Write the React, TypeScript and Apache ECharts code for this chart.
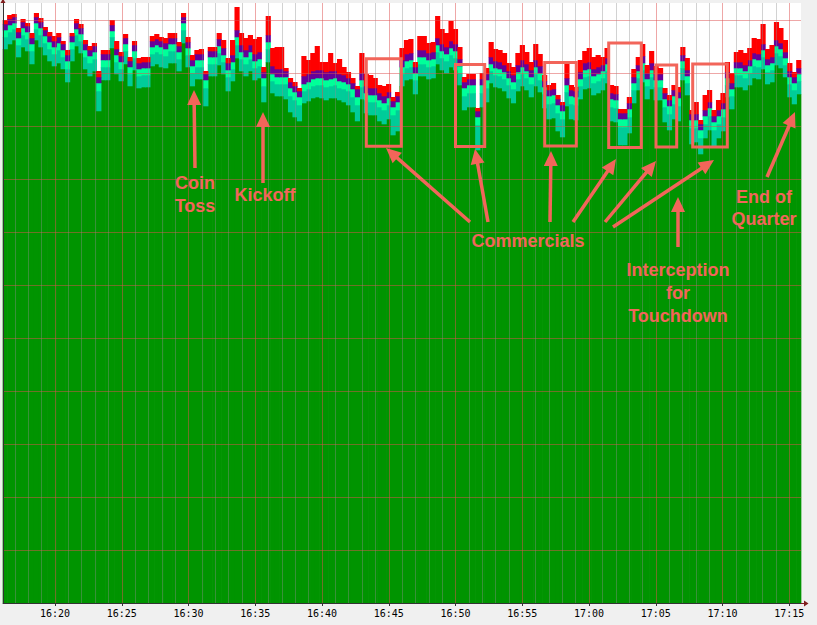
import React, { useEffect, useRef } from "react";
import * as echarts from "echarts";

// Time span of the plot, in minutes after 16:00 (16:16:06 .. 17:15:52)
const START_MIN = 16.105;
const END_MIN = 75.875;

// Major tick positions (minutes after 16:00) and their labels
const xTickMinutes = [20, 25, 30, 35, 40, 45, 50, 55, 60, 65, 70, 75];
const xTickLabels = ["16:20", "16:25", "16:30", "16:35", "16:40", "16:45", "16:50", "16:55", "17:00", "17:05", "17:10", "17:15"];

// One bar every 20 s. Total stacked height of each bar.
const totals = [
  583, 588, 589, 575, 584, 580, 570, 590, 585, 576,
  571, 567, 570, 562, 553, 570, 584, 579, 563, 557,
  560, 532, 553, 553, 583, 562, 551, 569, 546, 562,
  545, 546, 546, 567, 569, 566, 565, 570, 570, 561,
  590, 566, 548, 553, 554, 532, 556, 556, 570, 563,
  545, 563, 596, 570, 565, 568, 564, 566, 536, 587,
  555, 556, 556, 535, 525, 521, 515, 547, 543, 550,
  557, 541, 541, 550, 540, 544, 536, 531, 525, 517,
  550, 529, 528, 525, 518, 517, 519, 506, 511, 555,
  563, 564, 541, 567, 567, 560, 561, 587, 574, 570,
  582, 574, 556, 526, 529, 529, 495, 530, 535, 561,
  554, 553, 550, 540, 536, 550, 558, 551, 541, 559,
  549, 528, 518, 520, 508, 501, 540, 518, 516, 543,
  552, 555, 546, 548, 546, 555, 518, 517, 494, 494,
  506, 534, 546, 559, 538, 552, 537, 535, 515, 508,
  518, 516, 556, 545, 493, 501, 483, 508, 513, 493,
  503, 510, 541, 530, 551, 553, 550, 555, 565, 564,
  579, 554, 558, 581, 575, 563, 540, 531, 543,
];

// Top layer (red)
const redLayer = [
  4, 4, 3, 4, 3, 3, 5, 4, 4, 3,
  4, 5, 4, 3, 5, 3, 4, 4, 4, 4,
  3, 6, 4, 4, 5, 8, 4, 4, 4, 4,
  5, 5, 5, 5, 5, 4, 5, 5, 5, 4,
  4, 5, 5, 4, 5, 3, 4, 4, 6, 8,
  5, 15, 23, 12, 12, 10, 15, 15, 5, 19,
  18, 22, 22, 3, 4, 4, 3, 20, 14, 18,
  24, 8, 10, 18, 8, 15, 8, 6, 5, 3,
  20, 12, 13, 10, 8, 10, 8, 4, 4, 12,
  14, 14, 5, 14, 14, 10, 10, 22, 15, 14,
  20, 15, 12, 5, 5, 5, 3, 6, 6, 15,
  12, 12, 12, 8, 8, 12, 15, 12, 8, 16,
  12, 6, 5, 6, 4, 3, 15, 5, 4, 12,
  12, 14, 12, 12, 8, 10, 8, 8, 4, 4,
  6, 8, 8, 12, 8, 12, 8, 6, 5, 5,
  5, 5, 8, 12, 4, 12, 4, 15, 12, 6,
  10, 10, 10, 10, 10, 12, 12, 12, 15, 15,
  20, 10, 12, 18, 15, 12, 8, 5, 8,
];

// Purple layer
const purpleLayer = [
  6, 6, 6, 6, 6, 6, 6, 6, 6, 6,
  6, 6, 6, 6, 6, 6, 6, 6, 6, 6,
  6, 6, 6, 6, 6, 6, 6, 6, 6, 6,
  6, 6, 6, 6, 6, 6, 6, 6, 6, 6,
  6, 6, 6, 6, 6, 6, 6, 6, 7, 7,
  7, 7, 7, 7, 7, 7, 7, 7, 6, 7,
  8, 8, 8, 6, 6, 6, 6, 8, 8, 8,
  8, 8, 8, 8, 7, 7, 7, 6, 6, 8,
  7, 7, 7, 7, 7, 7, 6, 6, 6, 7,
  7, 7, 6, 7, 7, 7, 7, 7, 7, 7,
  7, 7, 7, 6, 6, 6, 6, 6, 6, 7,
  7, 7, 7, 7, 7, 7, 7, 7, 7, 7,
  7, 6, 6, 6, 6, 6, 7, 6, 6, 7,
  7, 7, 7, 7, 6, 6, 6, 6, 6, 6,
  6, 6, 6, 7, 6, 7, 6, 6, 6, 6,
  6, 6, 6, 6, 6, 6, 6, 6, 6, 6,
  6, 6, 6, 6, 6, 6, 6, 6, 6, 6,
  6, 6, 6, 6, 6, 6, 6, 6, 6,
];

// Bright mint layer
const mintLayer = [
  7, 7, 6, 7, 7, 7, 7, 6, 7, 7,
  7, 7, 7, 7, 8, 7, 6, 7, 7, 7,
  7, 8, 7, 7, 6, 7, 7, 7, 7, 7,
  7, 7, 7, 7, 7, 7, 7, 7, 7, 7,
  7, 7, 7, 7, 7, 8, 7, 7, 7, 7,
  7, 7, 8, 7, 7, 7, 7, 7, 8, 7,
  7, 7, 7, 7, 8, 8, 8, 7, 7, 7,
  7, 7, 7, 7, 7, 7, 7, 7, 8, 8,
  7, 7, 7, 7, 7, 7, 7, 8, 8, 7,
  7, 7, 7, 7, 7, 7, 7, 7, 7, 7,
  7, 7, 7, 8, 8, 8, 8, 8, 8, 7,
  7, 7, 7, 7, 7, 7, 7, 7, 7, 7,
  7, 7, 8, 8, 8, 8, 7, 8, 8, 7,
  7, 7, 7, 7, 7, 7, 8, 8, 8, 8,
  8, 7, 7, 7, 7, 7, 7, 7, 8, 8,
  8, 8, 7, 7, 8, 8, 8, 8, 8, 8,
  8, 8, 7, 7, 7, 7, 7, 7, 7, 7,
  7, 7, 7, 7, 7, 7, 7, 7, 7,
];

// Teal layer
const tealLayer = [
  12, 12, 11, 12, 12, 12, 13, 11, 12, 12,
  12, 12, 13, 12, 13, 12, 11, 12, 12, 13,
  12, 20, 13, 13, 11, 12, 12, 13, 12, 12,
  12, 12, 12, 12, 12, 13, 12, 12, 12, 12,
  13, 12, 13, 12, 12, 18, 12, 12, 12, 12,
  14, 12, 13, 12, 12, 12, 12, 12, 16, 13,
  12, 12, 12, 15, 16, 17, 16, 12, 12, 12,
  12, 13, 13, 12, 13, 12, 13, 14, 15, 16,
  12, 13, 13, 13, 14, 14, 14, 20, 21, 12,
  12, 12, 14, 12, 12, 12, 12, 12, 12, 12,
  12, 12, 12, 14, 14, 14, 25, 14, 14, 12,
  12, 12, 12, 13, 14, 12, 12, 12, 13, 12,
  12, 14, 15, 15, 18, 18, 14, 15, 15, 13,
  12, 12, 12, 12, 12, 12, 14, 14, 18, 18,
  16, 13, 12, 12, 13, 12, 13, 13, 15, 16,
  15, 15, 12, 12, 16, 14, 16, 14, 14, 16,
  14, 14, 12, 13, 12, 12, 12, 12, 12, 12,
  12, 12, 12, 12, 12, 12, 13, 14, 13,
];

// Base layer (green) = total minus the layers above it
const greenLayer = totals.map(
  (t, i) => t - redLayer[i] - purpleLayer[i] - mintLayer[i] - tealLayer[i]
);

const layerColors = ["#009400", "#00cc99", "#00ff99", "#660099", "#ff0000"];
const layerNames = ["Base", "Teal", "Mint", "Purple", "Red"];

const pad = (n: number) => (n < 10 ? "0" + n : "" + n);
const barTimes = totals.map((_, i) => {
  const s = Math.round(START_MIN * 60) + 16 * 3600 + i * 20;
  return `${Math.floor(s / 3600)}:${pad(Math.floor((s % 3600) / 60))}:${pad(s % 60)}`;
});

const NOTE = "#f2655a";
const NOTE_FONT = 'bold 18px "Liberation Sans", Arial, Helvetica, sans-serif';

function arrow(x1: number, y1: number, x2: number, y2: number) {
  const dx = x2 - x1;
  const dy = y2 - y1;
  const len = Math.hypot(dx, dy);
  const ux = dx / len;
  const uy = dy / len;
  const headLen = 15;
  const headW = 7;
  const bx = x2 - ux * headLen;
  const by = y2 - uy * headLen;
  const px = -uy;
  const py = ux;
  return [
    {
      type: "line",
      z: 100,
      shape: { x1, y1, x2: bx + ux * 2, y2: by + uy * 2 },
      style: { stroke: NOTE, lineWidth: 3.5, lineCap: "butt" },
    },
    {
      type: "polygon",
      z: 100,
      shape: {
        points: [
          [x2, y2],
          [bx + px * headW, by + py * headW],
          [bx - px * headW, by - py * headW],
        ],
      },
      style: { fill: NOTE },
    },
  ];
}

function box(x: number, y: number, w: number, h: number) {
  return {
    type: "rect",
    z: 100,
    shape: { x, y, width: w, height: h },
    style: { fill: "none", stroke: NOTE, lineWidth: 3 },
  };
}

function note(x: number, y: number, text: string, lh: number) {
  return {
    type: "text",
    z: 100,
    x,
    y,
    style: {
      text,
      font: NOTE_FONT,
      fill: NOTE,
      align: "center",
      verticalAlign: "middle",
      textAlign: "center",
      textVerticalAlign: "middle",
      lineHeight: lh,
    },
  };
}

export default function App() {
  const ref = useRef<HTMLDivElement>(null);

  useEffect(() => {
    if (!ref.current) return;
    const chart = echarts.init(ref.current, undefined, { renderer: "svg" });

    // One custom series per layer; each item: [barIndex, stackBase, layerValue]
    const layers = [greenLayer, tealLayer, mintLayer, purpleLayer, redLayer];
    const bases = layers.map((_, k) =>
      totals.map((_, i) => {
        let b = 0;
        for (let j = 0; j < k; j++) b += layers[j][i];
        return b;
      })
    );

    const layerSeries = layers.map((vals, k) => ({
      name: layerNames[k],
      type: "custom",
      xAxisIndex: 0,
      yAxisIndex: 0,
      silent: true,
      encode: { x: 0, y: 2 },
      data: vals.map((v, i) => [i, bases[k][i], v]),
      renderItem: (params: any, api: any) => {
        const i = api.value(0);
        const base = api.value(1);
        const v = api.value(2);
        const p0 = api.coord([i, base]);
        const p1 = api.coord([i, base + v]);
        const bw = api.size([1, 0])[0];
        return {
          type: "rect",
          shape: {
            x: p0[0] - bw / 2 - 0.35,
            y: p1[1],
            width: bw + 0.7,
            height: p0[1] - p1[1] + (k === 0 ? 0 : 0.3),
          },
          style: { fill: layerColors[k] },
        };
      },
    }));

    const majorGrid = "rgba(222, 80, 80, 0.5)";
    const minorGrid = "rgba(143, 143, 143, 0.4)";

    const option: any = {
      animation: false,
      backgroundColor: "#f0f0f0",
      grid: {
        left: 3,
        top: 3,
        width: 798,
        height: 600,
        show: true,
        backgroundColor: "#ffffff",
        borderWidth: 0,
        containLabel: false,
        outerBoundsMode: "none",
      },
      xAxis: [
        {
          type: "category",
          data: barTimes,
          position: "top",
          show: false,
          boundaryGap: true,
        },
        {
          type: "value",
          position: "bottom",
          min: START_MIN,
          max: END_MIN,
          splitNumber: 12,
          z: 10,
          axisLine: { show: true, onZero: false, lineStyle: { color: "#333333", width: 1 } },
          axisTick: { show: true, length: 3, lineStyle: { color: "#333333" } },
          axisLabel: {
            show: true,
            showMinLabel: false,
            showMaxLabel: false,
            margin: 5,
            color: "#000000",
            fontFamily: '"DejaVu Sans Mono", monospace',
            fontSize: 10,
            formatter: (v: number) => {
              const idx = xTickMinutes.indexOf(Math.round(v));
              return idx >= 0 && Math.abs(v - xTickMinutes[idx]) < 0.01 ? xTickLabels[idx] : "";
            },
          },
          splitLine: {
            show: true,
            showMinLine: false,
            showMaxLine: false,
            lineStyle: { color: majorGrid, width: 1 },
          },
          minorTick: { show: false, splitNumber: 5 },
          minorSplitLine: { show: true, lineStyle: { color: minorGrid, width: 1 } },
        },
      ],
      yAxis: {
        type: "value",
        min: 0,
        max: 600,
        interval: 53,
        z: 10,
        axisLine: { show: true, lineStyle: { color: "#333333", width: 1 } },
        axisTick: { show: false },
        axisLabel: { show: false },
        splitLine: {
          show: true,
          showMinLine: false,
          showMaxLine: false,
          lineStyle: { color: majorGrid, width: 1 },
        },
      },
      series: layerSeries,
      graphic: {
        elements: [
          // axis arrows
          {
            type: "polygon",
            z: 100,
            shape: { points: [[804, 600.5], [808.5, 603.5], [804, 606.5]] },
            style: { fill: "#801f1f" },
          },
          {
            type: "line",
            z: 100,
            shape: { x1: 801, y1: 603.5, x2: 805, y2: 603.5 },
            style: { stroke: "#801f1f", lineWidth: 1 },
          },
          {
            type: "polygon",
            z: 100,
            shape: { points: [[0.5, 3], [3, -1.5], [5.5, 3]] },
            style: { fill: "#801f1f" },
          },
          // commercial boxes
          box(366.3, 58.7, 35, 87.5),
          box(455.5, 64.5, 29.2, 82),
          box(544.7, 62.5, 31.6, 83.5),
          box(608.7, 43, 32.6, 104.5),
          box(656, 65, 20.7, 82),
          box(692.7, 64, 34.6, 83),
          // arrows
          ...arrow(195, 168, 194, 90),
          ...arrow(263, 183, 263, 112),
          ...arrow(470, 222, 386, 148),
          ...arrow(488, 222, 475, 149),
          ...arrow(550, 222, 551, 151),
          ...arrow(573, 222, 616, 159),
          ...arrow(605, 222, 656, 161),
          ...arrow(613, 227, 714, 160),
          ...arrow(678, 247, 678, 197),
          ...arrow(767, 177, 795, 112),
          // labels
          note(195, 194.5, "Coin\nToss", 23),
          note(265, 195, "Kickoff", 23),
          note(528, 241, "Commercials", 23),
          note(678, 293, "Interception\nfor\nTouchdown", 23),
          note(764, 208, "End of\nQuarter", 22),
        ],
      },
    };

    chart.setOption(option);
    return () => chart.dispose();
  }, []);

  return (
    <div
      ref={ref}
      style={{ position: "absolute", left: 0, top: 0, width: 817, height: 625 }}
    />
  );
}
